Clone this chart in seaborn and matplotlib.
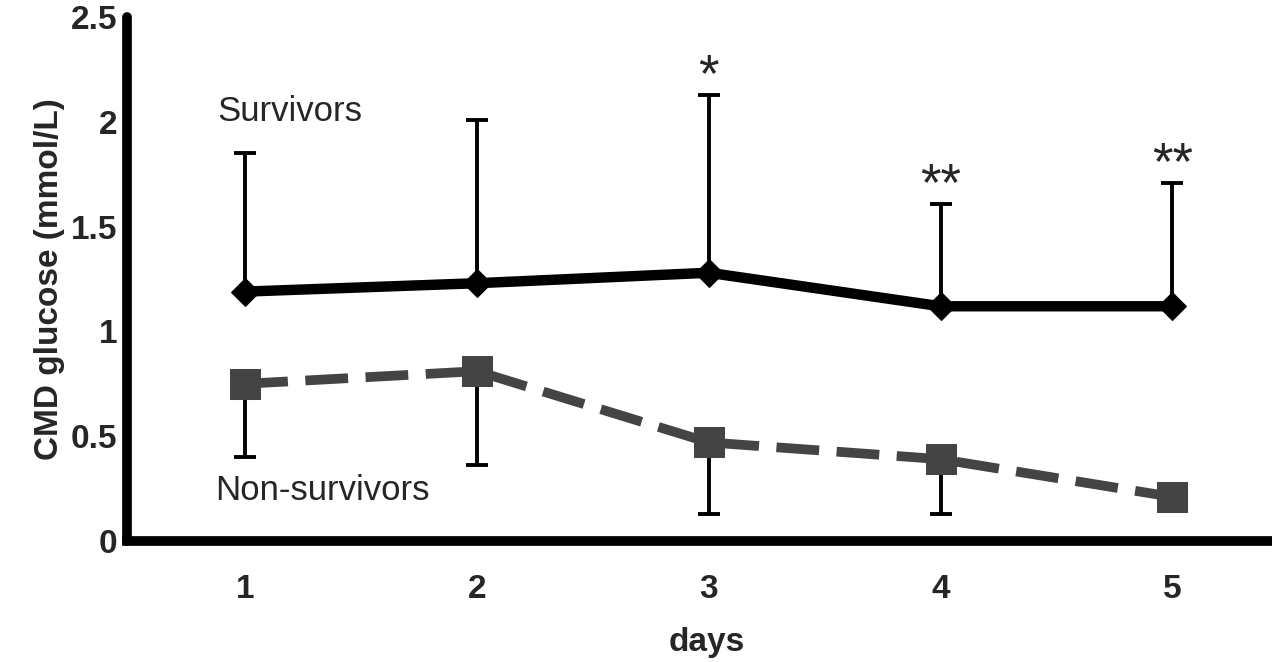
import numpy as np
import pandas as pd
import seaborn as sns
from matplotlib import pyplot as plt

# valori
days = [1, 2, 3, 4, 5]
surv_mean = [1.19, 1.23, 1.28, 1.12, 1.12]
surv_upper = [1.85, 2.01, 2.13, 1.61, 1.71]
nonsurv_mean = [0.75, 0.81, 0.47, 0.39, 0.21]
nonsurv_lower = [0.40, 0.36, 0.13, 0.13, 0.21]
stars = ["", "", "*", "**", "**"]

sns.set_theme(style="white")
plt.rcParams['font.family'] = ['Liberation Sans', 'DejaVu Sans']

df = pd.DataFrame({
    "days": days * 2,
    "glucose": surv_mean + nonsurv_mean,
    "group": ["Survivors"] * 5 + ["Non-survivors"] * 5,
})

fig = plt.figure(figsize=(12.72, 6.62), dpi=100)
ax = fig.add_axes([0.0998, 0.183, 0.9002, 0.791])

gray = "#444444"

# bare de eroare (unilaterale)
s_err = np.array(surv_upper) - np.array(surv_mean)
n_err = np.array(nonsurv_mean) - np.array(nonsurv_lower)
ax.errorbar(days, surv_mean, yerr=[np.zeros(5), s_err], fmt="none",
            ecolor="black", elinewidth=2.8, capsize=8, capthick=2.8, zorder=1)
ax.errorbar(days, nonsurv_mean, yerr=[n_err, np.zeros(5)], fmt="none",
            ecolor="black", elinewidth=2.8, capsize=8, capthick=2.8, zorder=1)

sns.lineplot(data=df[df.group == "Survivors"], x="days", y="glucose", ax=ax,
             color="black", linewidth=7.5, marker="D", markersize=14,
             markeredgecolor="black", zorder=3)
sns.lineplot(data=df[df.group == "Non-survivors"], x="days", y="glucose", ax=ax,
             color=gray, linewidth=7, marker="s", markersize=21,
             markeredgecolor=gray, dashes=(4.4, 1.8), zorder=3)

for d, u, s in zip(days, surv_upper, stars):
    if s:
        ax.text(d, u - 0.035, s, ha="center", va="bottom", fontsize=38)

ax.text(0.88, 2.05, "Survivors", ha="left", va="center", fontsize=25)
ax.text(0.87, 0.24, "Non-survivors", ha="left", va="center", fontsize=25)

ax.set_xlim(0.49, 5.43)
ax.set_ylim(0, 2.5)
ax.set_xticks(days)
ax.set_yticks([0, 0.5, 1, 1.5, 2, 2.5])
ax.set_yticklabels(["0", "0.5", "1", "1.5", "2", "2.5"])
ax.set_xlabel("days", fontsize=24, fontweight="bold")
ax.set_ylabel("CMD glucose (mmol/L)", fontsize=24, fontweight="bold", labelpad=4)
ax.xaxis.set_label_coords(0.506, -0.164)
ax.tick_params(axis="both", labelsize=24, direction="out", length=5, width=6,
               color="black")
ax.tick_params(axis="x", pad=19)
ax.tick_params(axis="y", pad=2)
for lab in ax.get_xticklabels() + ax.get_yticklabels():
    lab.set_fontweight("bold")

for side in ["top", "right"]:
    ax.spines[side].set_visible(False)
for side in ["left", "bottom"]:
    ax.spines[side].set_linewidth(7)
    ax.spines[side].set_color("black")
ax.spines["left"].set_capstyle("round")

if ax.get_legend():
    ax.get_legend().remove()

plt.savefig("out.png", dpi=100)
